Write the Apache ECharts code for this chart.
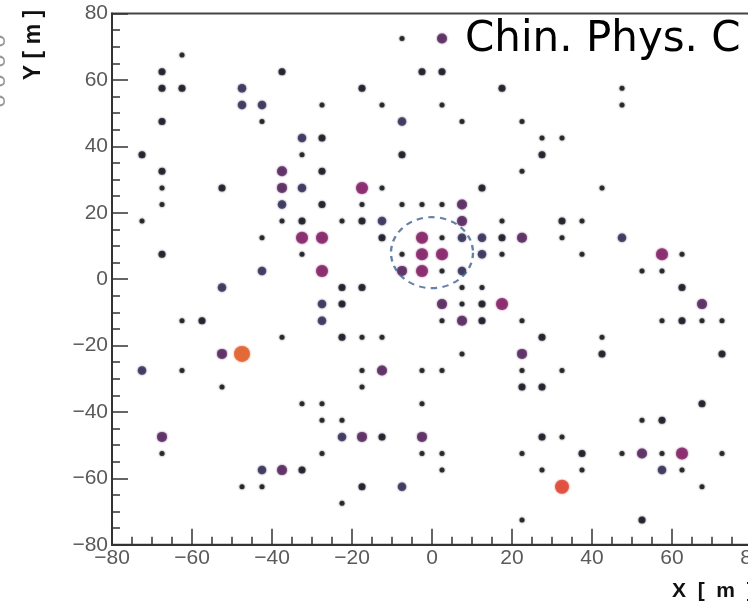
<!DOCTYPE html>
<html><head><meta charset="utf-8">
<script src="https://cdn.jsdelivr.net/npm/echarts@6/dist/echarts.min.js"></script>
<style>html,body{margin:0;padding:0;background:#fff}#c{width:748px;height:605px}</style>
</head><body><div id="c"></div>
<script>
// Axis range / ticks
const axisMin = -80, axisMax = 80, axisStep = 20;

// Detector hits [x (m), y (m)] grouped by marker class
const smallDots = [[-7.5,72.5],[-62.5,67.5],[47.5,57.5],[-27.5,52.5],[-12.5,52.5],[2.5,52.5],[47.5,52.5],[-42.5,47.5],[7.5,47.5],[22.5,47.5],[27.5,42.5],[32.5,42.5],[-32.5,37.5],[22.5,32.5],[-67.5,27.5],[-12.5,27.5],[42.5,27.5],[-67.5,22.5],[-17.5,22.5],[-7.5,22.5],[-2.5,22.5],[2.5,22.5],[-72.5,17.5],[-37.5,17.5],[-22.5,17.5],[17.5,17.5],[37.5,17.5],[-42.5,12.5],[2.5,12.5],[32.5,12.5],[-32.5,7.5],[-7.5,7.5],[17.5,7.5],[37.5,7.5],[62.5,7.5],[2.5,2.5],[52.5,2.5],[57.5,2.5],[7.5,-2.5],[12.5,-2.5],[7.5,-7.5],[-62.5,-12.5],[2.5,-12.5],[22.5,-12.5],[57.5,-12.5],[67.5,-12.5],[72.5,-12.5],[-37.5,-17.5],[-17.5,-17.5],[-12.5,-17.5],[42.5,-17.5],[7.5,-22.5],[-62.5,-27.5],[-17.5,-27.5],[-2.5,-27.5],[2.5,-27.5],[22.5,-27.5],[32.5,-27.5],[-52.5,-32.5],[-17.5,-32.5],[-32.5,-37.5],[-27.5,-37.5],[-2.5,-37.5],[-27.5,-42.5],[-22.5,-42.5],[52.5,-42.5],[32.5,-47.5],[-67.5,-52.5],[-27.5,-52.5],[-2.5,-52.5],[2.5,-52.5],[22.5,-52.5],[47.5,-52.5],[57.5,-52.5],[72.5,-52.5],[2.5,-57.5],[27.5,-57.5],[37.5,-57.5],[62.5,-57.5],[-47.5,-62.5],[-42.5,-62.5],[67.5,-62.5],[-22.5,-67.5],[22.5,-72.5]];
const mediumDots = [[-67.5,62.5],[-37.5,62.5],[-2.5,62.5],[2.5,62.5],[-67.5,57.5],[-62.5,57.5],[-17.5,57.5],[17.5,57.5],[-67.5,47.5],[-27.5,42.5],[-72.5,37.5],[-7.5,37.5],[27.5,37.5],[-67.5,32.5],[-27.5,32.5],[-52.5,27.5],[12.5,27.5],[-27.5,22.5],[-32.5,17.5],[-17.5,17.5],[32.5,17.5],[-12.5,12.5],[17.5,12.5],[-67.5,7.5],[-22.5,-2.5],[-17.5,-2.5],[62.5,-2.5],[-22.5,-7.5],[12.5,-7.5],[-57.5,-12.5],[12.5,-12.5],[62.5,-12.5],[-22.5,-17.5],[27.5,-17.5],[42.5,-22.5],[72.5,-22.5],[22.5,-32.5],[27.5,-32.5],[67.5,-37.5],[57.5,-42.5],[-12.5,-47.5],[27.5,-47.5],[37.5,-52.5],[-32.5,-57.5],[-17.5,-62.5],[52.5,-72.5]];
const navyDots = [[-47.5,57.5],[-47.5,52.5],[-42.5,52.5],[-7.5,47.5],[-32.5,42.5],[-32.5,27.5],[-37.5,22.5],[-12.5,17.5],[7.5,12.5],[12.5,12.5],[47.5,12.5],[12.5,7.5],[-42.5,2.5],[7.5,2.5],[-52.5,-2.5],[-27.5,-7.5],[-27.5,-12.5],[-72.5,-27.5],[-22.5,-47.5],[-42.5,-57.5],[57.5,-57.5],[-7.5,-62.5]];
const purpleDots = [[2.5,72.5],[-37.5,32.5],[-37.5,27.5],[7.5,22.5],[7.5,17.5],[22.5,12.5],[-7.5,2.5],[2.5,-7.5],[67.5,-7.5],[7.5,-12.5],[-52.5,-22.5],[22.5,-22.5],[-12.5,-27.5],[-67.5,-47.5],[-17.5,-47.5],[-2.5,-47.5],[52.5,-52.5],[-37.5,-57.5]];
const magentaDots = [[-17.5,27.5],[-32.5,12.5],[-27.5,12.5],[-2.5,12.5],[-2.5,7.5],[2.5,7.5],[57.5,7.5],[-27.5,2.5],[-2.5,2.5],[17.5,-7.5],[62.5,-52.5]];
const orangeDots = [[-47.5,-22.5]];
const redDots = [[32.5,-62.5]];
const coreCenter = [[0,8]];

const chart = echarts.init(document.getElementById('c'), null, {renderer:'canvas'});

function dotSeries(name, data, size, color) {
  return {
    name, type:'scatter', data, symbol:'circle', symbolSize:size,
    itemStyle:{color, shadowBlur:2, shadowColor:color},
    emphasis:{disabled:true}, animation:false, z:3
  };
}

const fmt = v => String(v).replace('-', '\u2212');

const axisCommon = {
  type:'value', min:axisMin, max:axisMax, interval:axisStep,
  axisLine:{show:true, onZero:false, lineStyle:{color:'#333', width:2}},
  axisTick:{show:true, inside:true, length:16, lineStyle:{color:'#333', width:1.5}},
  minorTick:{show:true, splitNumber:4, length:8, lineStyle:{color:'#333', width:1.5}},
  splitLine:{show:false},
  axisLabel:{color:'#5a5a5a', fontSize:21, fontFamily:'Liberation Sans', margin:3, formatter:fmt, hideOverlap:false}
};

chart.setOption({
  backgroundColor:'#fff',
  animation:false,
  grid:{left:112, top:13.6, width:640, height:531.2, outerBoundsMode:'none', containLabel:false,
        show:true, borderColor:'#444', borderWidth:2, backgroundColor:'transparent'},
  xAxis:Object.assign({}, axisCommon),
  yAxis:Object.assign({}, axisCommon, {axisLabel:Object.assign({}, axisCommon.axisLabel, {margin:4})}),
  series:[
    dotSeries('small', smallDots, 5, '#1a1a22'),
    dotSeries('medium', mediumDots, 7, '#1c1c28'),
    dotSeries('navy', navyDots, 8.5, '#38345c'),
    dotSeries('purple', purpleDots, 10, '#5a2c62'),
    dotSeries('magenta', magentaDots, 12, '#87276a'),
    dotSeries('orange', orangeDots, 16, '#e2632f'),
    dotSeries('red', redDots, 14, '#e04a3a'),
    {
      name:'core', type:'scatter', data:coreCenter, symbol:'circle', symbolSize:[82,71],
      itemStyle:{color:'rgba(0,0,0,0)', borderColor:'#3d6390', borderWidth:2.2, borderType:[6,5]},
      emphasis:{disabled:true}, z:4
    }
  ],
  graphic:[
    {type:'rect', shape:{x:453, y:15, width:300, height:56}, style:{fill:'#fff'}, z:10},
    {type:'text', x:465, y:40, z:11, style:{text:'Chin. Phys. C', font:'42px "DejaVu Sans"', fill:'#000', textAlign:'left', textVerticalAlign:'middle'}},
    {type:'text', x:34, y:45, rotation:Math.PI/2, z:11, style:{text:'Y [ m ]', font:'bold 23px "Liberation Sans"', fill:'#111', textAlign:'center', textVerticalAlign:'middle'}},
    {type:'text', x:672, y:591, z:11, style:{text:'X  [  m  ]', font:'bold 21px "Liberation Sans"', fill:'#111', textAlign:'left', textVerticalAlign:'middle'}},
    {type:'text', x:-2, y:71, rotation:Math.PI/2, z:11, style:{text:'o o o o', font:'24px "Liberation Sans"', fill:'#999', textAlign:'center', textVerticalAlign:'middle'}}
  ]
});
</script>
</body></html>
